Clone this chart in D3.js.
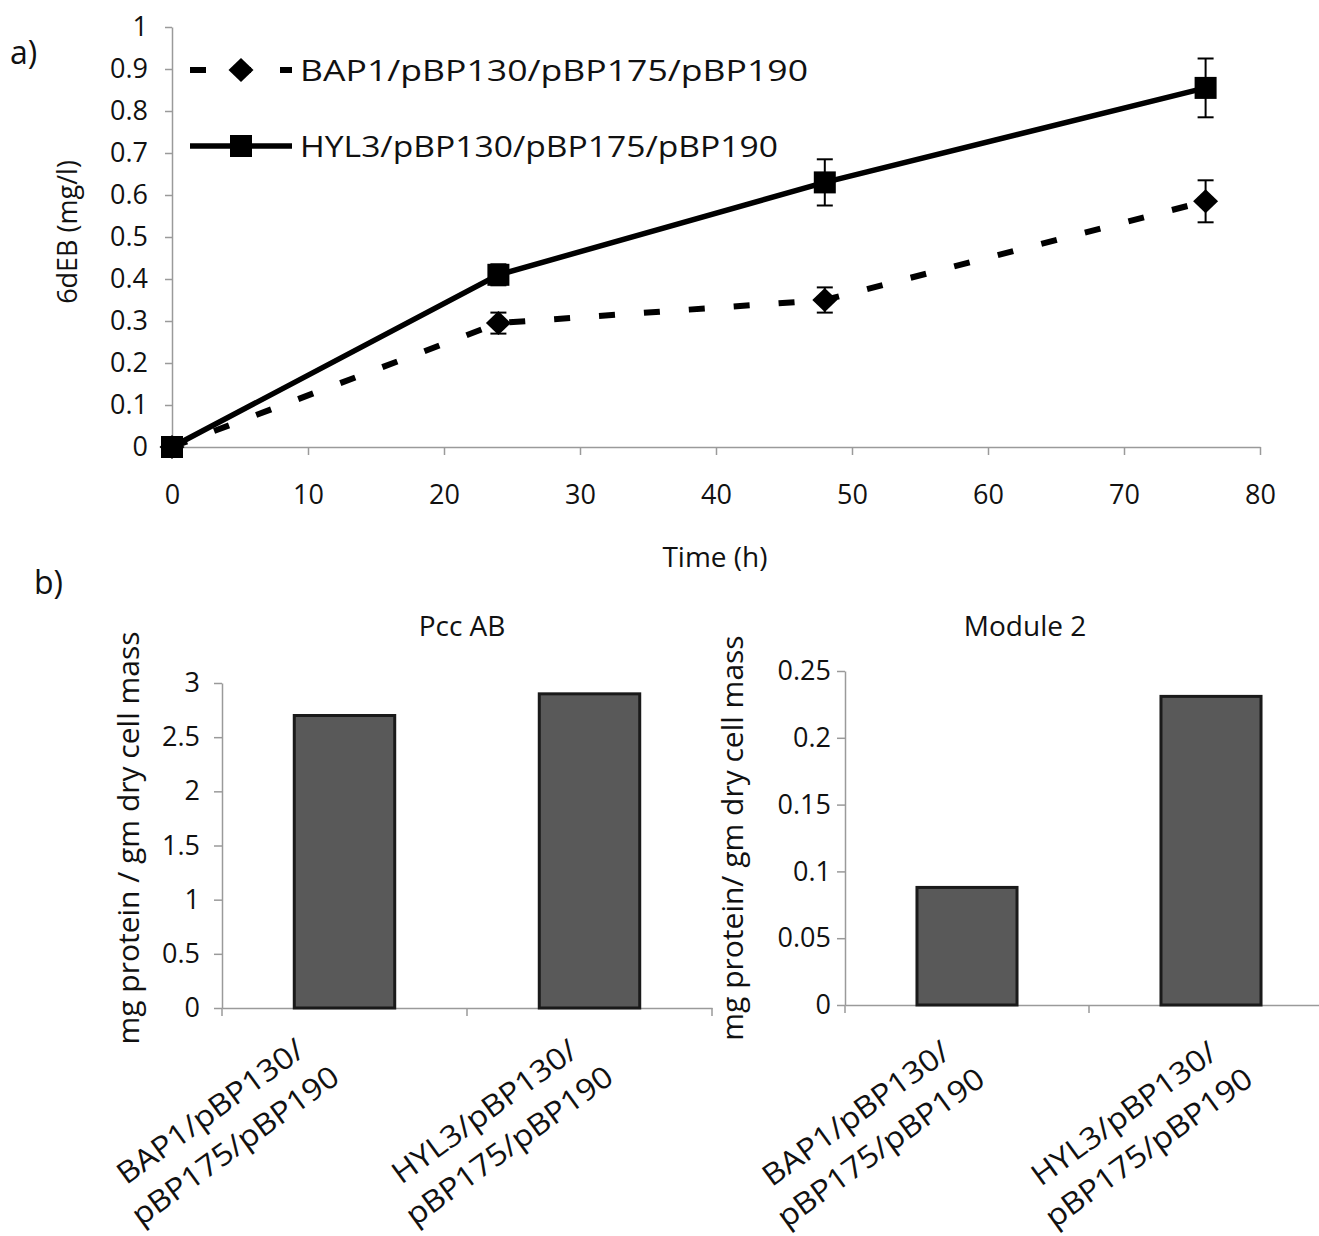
<!DOCTYPE html>
<html><head><meta charset="utf-8">
<script src="https://cdn.jsdelivr.net/npm/d3@7"></script>
<style>
body{margin:0;background:#fff}
text{font-family:"Open Sans",sans-serif;fill:#111}
</style>
</head><body>
<svg id="c" width="1319" height="1236"></svg>
<script>
// ---------- data ----------
const timeH = [0, 24, 48, 76];
const bap1Values = [0, 0.295, 0.35, 0.585];
const bap1Err = [0, 0.025, 0.03, 0.05];
const hyl3Values = [0, 0.41, 0.63, 0.855];
const hyl3Err = [0, 0.025, 0.055, 0.07];
const seriesNames = ["BAP1/pBP130/pBP175/pBP190", "HYL3/pBP130/pBP175/pBP190"];
const xTicksA = [0, 10, 20, 30, 40, 50, 60, 70, 80];
const yTicksA = [0, 0.1, 0.2, 0.3, 0.4, 0.5, 0.6, 0.7, 0.8, 0.9, 1];

const strains = ["BAP1", "HYL3"];
const strainLines = [["BAP1/pBP130/", "pBP175/pBP190"], ["HYL3/pBP130/", "pBP175/pBP190"]];
const pccABValues = [2.7, 2.9];
const module2Values = [0.088, 0.231];
const yTicksPcc = [0, 0.5, 1, 1.5, 2, 2.5, 3];
const yTicksMod = [0, 0.05, 0.1, 0.15, 0.2, 0.25];

// ---------- setup ----------
const svg = d3.select("#c");
const AXIS = "#9a9a9a";

function styleAxis(g) {
  g.selectAll("path.domain").attr("stroke", AXIS).attr("stroke-width", 1.5);
  g.selectAll(".tick line").attr("stroke", AXIS).attr("stroke-width", 1.5);
  g.selectAll(".tick text").attr("fill", "#111").style("font-family", '"Open Sans",sans-serif');
}

// ---------- panel a ----------
const xA = d3.scaleLinear().domain([0, 80]).range([172, 1260]);
const yA = d3.scaleLinear().domain([0, 1]).range([447, 27]);

svg.append("text").attr("x", 10).attr("y", 64).attr("font-size", 32).text("a)");

const gxA = svg.append("g").attr("transform", `translate(0,${yA(0)})`)
  .call(d3.axisBottom(xA).tickValues(xTicksA).tickSize(8).tickSizeOuter(0).tickPadding(30).tickFormat(d => d));
gxA.selectAll(".tick text").attr("font-size", 27);
styleAxis(gxA);

const gyA = svg.append("g").attr("transform", `translate(${xA(0)},0)`)
  .call(d3.axisLeft(yA).tickValues(yTicksA).tickSize(7).tickSizeOuter(0).tickPadding(17).tickFormat(d => d));
gyA.selectAll(".tick text").attr("font-size", 27);
styleAxis(gyA);

svg.append("text").attr("x", 715).attr("y", 567).attr("text-anchor", "middle").attr("font-size", 28).text("Time (h)");
svg.append("text").attr("transform", `translate(77,232) rotate(-90)`).attr("text-anchor", "middle").attr("font-size", 27).text("6dEB (mg/l)");

const bapPts = timeH.map((t, i) => ({t, v: bap1Values[i], e: bap1Err[i]}));
const hylPts = timeH.map((t, i) => ({t, v: hyl3Values[i], e: hyl3Err[i]}));
const line = d3.line().x(d => xA(d.t)).y(d => yA(d.v));

svg.append("path").datum(bapPts).attr("d", line).attr("fill", "none").attr("stroke", "#000")
  .attr("stroke-width", 6).attr("stroke-dasharray", "16,29");
svg.append("path").datum(hylPts).attr("d", line).attr("fill", "none").attr("stroke", "#000")
  .attr("stroke-width", 5.5);

function errBars(pts) {
  const g = svg.append("g").attr("stroke", "#000").attr("stroke-width", 2);
  pts.filter(d => d.e > 0).forEach(d => {
    const x = xA(d.t), y1 = yA(d.v - d.e), y2 = yA(d.v + d.e);
    g.append("line").attr("x1", x).attr("x2", x).attr("y1", y1).attr("y2", y2);
    g.append("line").attr("x1", x - 8).attr("x2", x + 8).attr("y1", y1).attr("y2", y1);
    g.append("line").attr("x1", x - 8).attr("x2", x + 8).attr("y1", y2).attr("y2", y2);
  });
}
errBars(bapPts);
errBars(hylPts);

function diamond(x, y) { return `M${x},${y - 12}L${x + 12.5},${y}L${x},${y + 12}L${x - 12.5},${y}Z`; }
svg.append("g").selectAll("path").data(bapPts).join("path")
  .attr("d", d => diamond(xA(d.t), yA(d.v))).attr("fill", "#000");
svg.append("g").selectAll("rect").data(hylPts).join("rect")
  .attr("x", d => xA(d.t) - 11).attr("y", d => yA(d.v) - 11).attr("width", 22).attr("height", 22).attr("fill", "#000");

// legend
const leg = svg.append("g");
leg.append("line").attr("x1", 190).attr("x2", 292).attr("y1", 70).attr("y2", 70)
  .attr("stroke", "#000").attr("stroke-width", 6).attr("stroke-dasharray", "16,29");
leg.append("path").attr("d", diamond(241, 70)).attr("fill", "#000");
leg.append("text").attr("x", 300).attr("y", 81).attr("font-size", 29)
  .attr("textLength", 508).attr("lengthAdjust", "spacingAndGlyphs").text(seriesNames[0]);
leg.append("line").attr("x1", 190).attr("x2", 292).attr("y1", 146).attr("y2", 146)
  .attr("stroke", "#000").attr("stroke-width", 5.5);
leg.append("rect").attr("x", 230).attr("y", 135).attr("width", 22).attr("height", 22).attr("fill", "#000");
leg.append("text").attr("x", 300).attr("y", 157).attr("font-size", 29)
  .attr("textLength", 478).attr("lengthAdjust", "spacingAndGlyphs").text(seriesNames[1]);

// ---------- panel b ----------
svg.append("text").attr("x", 34).attr("y", 594).attr("font-size", 32).text("b)");

function barChart(o) {
  const x = d3.scaleBand().domain(strains).range(o.xr).paddingInner(0.59).paddingOuter(0.295);
  const y = d3.scaleLinear().domain(o.dom).range(o.yr);
  const gx = svg.append("g").attr("transform", `translate(0,${o.yr[0]})`)
    .call(d3.axisBottom(x).tickSize(0).tickFormat(""));
  const step = x.step();
  const bounds = d3.range(strains.length + 1).map(i => o.xr[0] + i * step);
  gx.selectAll("line.b").data(bounds).join("line").attr("class", "b")
    .attr("x1", d => d).attr("x2", d => d).attr("y1", 0).attr("y2", 8)
    .attr("stroke", AXIS).attr("stroke-width", 1.5);
  styleAxis(gx);

  const gy = svg.append("g").attr("transform", `translate(${o.xr[0]},0)`)
    .call(d3.axisLeft(y).tickValues(o.ticks).tickSize(8).tickSizeOuter(0).tickPadding(o.tickPad).tickFormat(d => d));
  gy.selectAll(".tick text").attr("font-size", 27);
  styleAxis(gy);

  svg.append("g").selectAll("rect").data(o.values).join("rect")
    .attr("x", (d, i) => x(strains[i]))
    .attr("y", d => y(d))
    .attr("width", x.bandwidth())
    .attr("height", d => y(0) - y(d))
    .attr("fill", "#595959").attr("stroke", "#1a1a1a").attr("stroke-width", 3);

  svg.append("text").attr("x", o.titleX).attr("y", 636).attr("text-anchor", "middle")
    .attr("font-size", 28).text(o.title);

  svg.append("text").attr("transform", `translate(${o.ylabX},838) rotate(-90)`)
    .attr("text-anchor", "middle").attr("font-size", 30).text(o.ylab);

  strains.forEach((s, i) => {
    const cx = x(s) + x.bandwidth() / 2 + o.labShift[i];
    const cy = o.yr[0] + o.labDy;
    const t = svg.append("text").attr("transform", `translate(${cx},${cy}) rotate(-36) scale(1.1,1)`)
      .attr("text-anchor", "middle").attr("font-size", 30);
    strainLines[i].forEach((ln, k) => {
      t.append("tspan").attr("x", 0).attr("y", k * 42).text(ln);
    });
  });
}

barChart({xr: [222, 712], yr: [1008, 683], dom: [0, 3], ticks: yTicksPcc, values: pccABValues,
  title: "Pcc AB", titleX: 462, ylab: "mg protein / gm dry cell mass", ylabX: 139, tickPad: 14,
  labShift: [-128, -99], labDy: 112});
barChart({xr: [845, 1333], yr: [1005, 671], dom: [0, 0.25], ticks: yTicksMod, values: module2Values,
  title: "Module 2", titleX: 1025, ylab: "mg protein/ gm dry cell mass", ylabX: 743, tickPad: 6,
  labShift: [-105, -81], labDy: 117});
</script>
</body></html>
